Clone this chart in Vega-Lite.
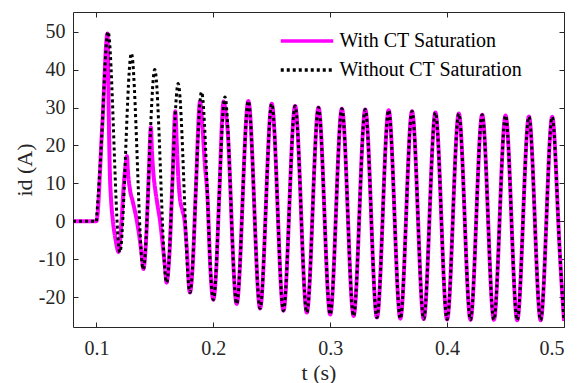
{
  "$schema": "https://vega.github.io/schema/vega-lite/v6.json",
  "width": 491,
  "height": 315,
  "autosize": {"type": "none"},
  "padding": {"left": 73, "top": 12, "right": 19, "bottom": 56},
  "background": "white",
  "config": {
    "font": "Liberation Serif",
    "view": {"stroke": "#262626", "strokeWidth": 1},
    "axis": {
      "grid": false,
      "domain": false,
      "tickColor": "#262626",
      "labelColor": "#262626",
      "titleColor": "#262626",
      "labelFont": "Liberation Serif",
      "titleFont": "Liberation Serif",
      "labelFontSize": 20,
      "titleFontSize": 22,
      "titleFontWeight": "normal",
      "tickSize": 5,
      "offset": -5
    },
    "legend": {
      "labelFont": "Liberation Serif",
      "labelFontSize": 20,
      "labelColor": "#000000",
      "labelLimit": 400
    }
  },
  "datasets": {
    "withCT": [
      {"t":0.08,"v":0},{"t":0.1,"v":0},{"t":0.105,"v":25},{"t":0.1095,"v":49.5},{"t":0.1105,"v":30},{"t":0.1115,"v":13},{"t":0.1125,"v":6},{"t":0.114,"v":0.5},{"t":0.1165,"v":-5},{"t":0.119,"v":-8.1},
      {"t":0.1215,"v":0},{"t":0.1235,"v":10},{"t":0.1255,"v":16},{"t":0.1262,"v":17.2},{"t":0.1268,"v":14},{"t":0.1288,"v":8.2},{"t":0.1308,"v":5.6},{"t":0.1345,"v":0.3},{"t":0.1368,"v":-4.1},{"t":0.1388,"v":-9},{"t":0.1402,"v":-12.6},
      {"t":0.1425,"v":-5},{"t":0.145,"v":13.7},{"t":0.1466,"v":24.8},{"t":0.1476,"v":18},{"t":0.1488,"v":12.5},{"t":0.1505,"v":8},{"t":0.1522,"v":4.5},{"t":0.1545,"v":0},{"t":0.157,"v":-7},{"t":0.1588,"v":-12.5},{"t":0.16,"v":-16.2},
      {"t":0.1625,"v":-8.5},{"t":0.165,"v":10.1},{"t":0.1675,"v":29},{"t":0.1688,"v":20},{"t":0.17,"v":12},{"t":0.1715,"v":6},{"t":0.1735,"v":3},{"t":0.1755,"v":0},{"t":0.1772,"v":-6.5},{"t":0.18,"v":-18.8},
      {"t":0.1825,"v":-11},{"t":0.185,"v":7.7},{"t":0.1887,"v":31.6},{"t":0.1905,"v":26},{"t":0.1928,"v":15},{"t":0.195,"v":6.7},{"t":0.1975,"v":-12.5},{"t":0.2,"v":-20.7},
      {"t":0.2025,"v":-12.8},{"t":0.205,"v":6.1},{"t":0.2088,"v":31.6},{"t":0.2105,"v":29},{"t":0.2125,"v":23},{"t":0.215,"v":5.5}
    ],
    "withoutCT": [
      {"t":0.08,"v":0},{"t":0.1,"v":0},
      {"t":0.105,"v":25},{"t":0.11,"v":50},{"t":0.115,"v":20.9},{"t":0.12,"v":-8.2},{"t":0.125,"v":18.1},{"t":0.13,"v":44.3},{"t":0.135,"v":15.8},{"t":0.14,"v":-12.7},{"t":0.145,"v":13.7},{"t":0.15,"v":40},
      {"t":0.155,"v":11.9},{"t":0.16,"v":-16.2},{"t":0.165,"v":10.1},{"t":0.17,"v":36.3},{"t":0.175,"v":8.8},{"t":0.18,"v":-18.8},{"t":0.185,"v":7.7},{"t":0.19,"v":34.1},{"t":0.195,"v":6.7},{"t":0.2,"v":-20.7},
      {"t":0.205,"v":6.1},{"t":0.21,"v":32.8},{"t":0.215,"v":5.5},{"t":0.22,"v":-21.8},{"t":0.225,"v":5.0},{"t":0.23,"v":31.7},{"t":0.235,"v":4.4},{"t":0.24,"v":-23.0},{"t":0.245,"v":4.0},{"t":0.25,"v":31.0},
      {"t":0.255,"v":3.7},{"t":0.26,"v":-23.6},{"t":0.265,"v":3.4},{"t":0.27,"v":30.4},{"t":0.275,"v":3.2},{"t":0.28,"v":-24.1},{"t":0.285,"v":3.0},{"t":0.29,"v":30.0},{"t":0.295,"v":2.7},{"t":0.3,"v":-24.6},
      {"t":0.305,"v":2.6},{"t":0.31,"v":29.7},{"t":0.315,"v":2.4},{"t":0.32,"v":-25.0},{"t":0.325,"v":2.2},{"t":0.33,"v":29.5},{"t":0.335,"v":2.0},{"t":0.34,"v":-25.4},{"t":0.345,"v":2.0},{"t":0.35,"v":29.3},
      {"t":0.355,"v":1.8},{"t":0.36,"v":-25.7},{"t":0.365,"v":1.7},{"t":0.37,"v":29.0},{"t":0.375,"v":1.6},{"t":0.38,"v":-25.8},{"t":0.385,"v":1.5},{"t":0.39,"v":28.7},{"t":0.395,"v":1.4},{"t":0.4,"v":-25.9},
      {"t":0.405,"v":1.3},{"t":0.41,"v":28.4},{"t":0.415,"v":1.2},{"t":0.42,"v":-26.0},{"t":0.425,"v":1.1},{"t":0.43,"v":28.1},{"t":0.435,"v":1.0},{"t":0.44,"v":-26.0},{"t":0.445,"v":1.0},{"t":0.45,"v":27.9},
      {"t":0.455,"v":0.9},{"t":0.46,"v":-26.1},{"t":0.465,"v":0.8},{"t":0.47,"v":27.6},{"t":0.475,"v":0.7},{"t":0.48,"v":-26.1},{"t":0.485,"v":0.7},{"t":0.49,"v":27.5},{"t":0.495,"v":0.6},{"t":0.5,"v":-26.3}
    ]
  },
  "resolve": {"axis": {"x": "independent", "y": "independent"}},
  "layer": [
    {
      "data": {"name": "withCT"},
      "mark": {"type": "line", "interpolate": "monotone", "strokeWidth": 4, "clip": true},
      "encoding": {
        "x": {"field": "t", "type": "quantitative", "scale": {"domain": [0.08, 0.5], "nice": false, "zero": false},
              "axis": {"orient": "bottom", "values": [0.1, 0.2, 0.3, 0.4, 0.5], "format": ".1f", "title": "t (s)", "labelPadding": 11, "titlePadding": 4}},
        "y": {"field": "v", "type": "quantitative", "scale": {"domain": [-27.9, 55.2], "nice": false, "zero": false},
              "axis": {"orient": "left", "values": [-20, -10, 0, 10, 20, 30, 40, 50], "labelExpr": "datum.value + ''", "title": "id (A)", "labelPadding": 8, "titlePadding": 2}},
        "color": {"datum": "With CT Saturation", "type": "nominal",
                  "scale": {"domain": ["With CT Saturation", "Without CT Saturation"], "range": ["#FF00FF", "#000000"]},
                  "legend": {"title": null, "orient": "none", "legendX": 206, "legendY": 16.5, "padding": 0, "rowPadding": 6,
                             "symbolType": "M-2.5,0H2.5", "symbolSize": 441, "symbolStrokeWidth": 3.5, "symbolOffset": 15.5, "labelOffset": 20}},
        "strokeDash": {"datum": "With CT Saturation", "type": "nominal",
                       "scale": {"domain": ["With CT Saturation", "Without CT Saturation"], "range": [[1, 0], [3, 3]]},
                       "legend": {"title": null, "orient": "none", "legendX": 206, "legendY": 16.5, "padding": 0, "rowPadding": 6,
                             "symbolType": "M-2.5,0H2.5", "symbolSize": 441, "symbolStrokeWidth": 3.5, "symbolOffset": 15.5, "labelOffset": 20}}
      }
    },
    {
      "data": {"name": "withoutCT"},
      "transform": [{"filter": "datum.t >= 0.215"}],
      "mark": {"type": "line", "interpolate": "natural", "strokeWidth": 4, "clip": true},
      "encoding": {
        "x": {"field": "t", "type": "quantitative", "axis": null},
        "y": {"field": "v", "type": "quantitative", "axis": null},
        "color": {"datum": "With CT Saturation", "type": "nominal"},
        "strokeDash": {"datum": "With CT Saturation", "type": "nominal"}
      }
    },
    {
      "data": {"name": "withoutCT"},
      "transform": [{"filter": "datum.t <= 0.1"}],
      "mark": {"type": "line", "strokeWidth": 3, "strokeCap": "butt", "clip": true},
      "encoding": {
        "x": {"field": "t", "type": "quantitative", "axis": null},
        "y": {"field": "v", "type": "quantitative", "axis": null},
        "color": {"datum": "Without CT Saturation", "type": "nominal"},
        "strokeDash": {"datum": "Without CT Saturation", "type": "nominal"}
      }
    },
    {
      "data": {"name": "withoutCT"},
      "transform": [{"filter": "datum.t >= 0.1"}],
      "mark": {"type": "line", "interpolate": "natural", "strokeWidth": 3, "strokeCap": "butt", "clip": true},
      "encoding": {
        "x": {"field": "t", "type": "quantitative",
              "axis": {"orient": "top", "values": [0.1, 0.2, 0.3, 0.4, 0.5], "labels": false, "title": null}},
        "y": {"field": "v", "type": "quantitative",
              "axis": {"orient": "right", "values": [-20, -10, 0, 10, 20, 30, 40, 50], "labels": false, "title": null}},
        "color": {"datum": "Without CT Saturation", "type": "nominal"},
        "strokeDash": {"datum": "Without CT Saturation", "type": "nominal"}
      }
    }
  ]
}
